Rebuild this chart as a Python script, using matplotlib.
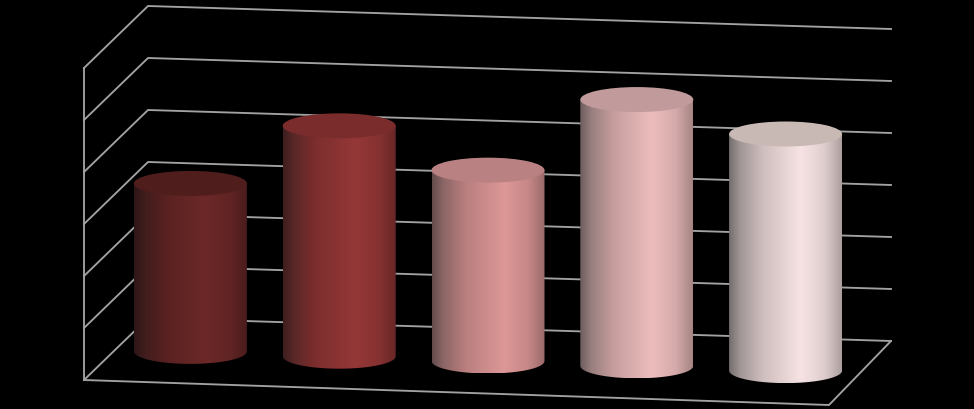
import matplotlib
matplotlib.use("Agg")
import matplotlib.pyplot as plt
import numpy as np
from matplotlib.patches import Ellipse, PathPatch
from matplotlib.path import Path

# values, in gridline units
values = [3.23, 4.43, 3.67, 5.12, 4.55]
grid_levels = [0, 1, 2, 3, 4, 5, 6]

side_colors = ["#6c2828", "#953737", "#dd9797", "#edbdbd", "#f7e3e3"]
top_colors = ["#4f1d1b", "#7a2c2c", "#b98181", "#c19b9b", "#c9b9b5"]
grid_color = "#a2a2a2"

# box corners on the canvas, in pixels
FRONT_LEFT = np.array([84.0, 380.0])
FRONT_RIGHT = np.array([829.0, 405.0])
BACK_LEFT = np.array([148.0, 318.0])
BACK_RIGHT = np.array([891.0, 341.0])
UNIT = 52.0
BAR_DEPTH = 0.5
RX = 56.5
RY = 12.5
LW = 1.35


def project(t, depth, value):
    # t along the front edge, depth into the box, value up the wall
    front = FRONT_LEFT + (FRONT_RIGHT - FRONT_LEFT) * t
    back = BACK_LEFT + (BACK_RIGHT - BACK_LEFT) * t
    p = front + (back - front) * depth
    return p[0], p[1] - UNIT * value


def draw_box(ax):
    for lev in grid_levels:
        x0, y0 = project(0, 0, lev)
        x1, y1 = project(0, 1, lev)
        x2, y2 = project(1, 1, lev)
        ax.plot([x0, x1, x2], [y0, y1, y2], color=grid_color, lw=LW, zorder=1)
    x0, y0 = project(0, 0, grid_levels[0])
    x1, y1 = project(0, 0, grid_levels[-1])
    ax.plot([x0, x1], [y0, y1], color=grid_color, lw=LW, zorder=1)
    x2, y2 = project(1, 0, 0)
    x3, y3 = project(1, 1, 0)
    ax.plot([x0, x2, x3], [y0, y2, y3], color=grid_color, lw=LW, zorder=1)


def draw_cylinder(ax, i, value, side, top):
    t = (i + 0.5) / len(values)
    cx, base_y = project(t, BAR_DEPTH, 0)
    _, top_y = project(t, BAR_DEPTH, value)

    # side: horizontal shading clipped to the cylinder outline
    u = np.linspace(0, 1, 226)
    shade = np.interp(u, [0, 0.1, 0.3, 0.64, 0.85, 1], [0.48, 0.66, 0.84, 1, 0.9, 0.7])
    rgb = np.array(matplotlib.colors.to_rgb(side))
    # the left edge goes a little grey on the pale bars
    grey = rgb.mean() * np.ones(3)
    mix = np.clip(1 - u / 0.25, 0, 1)[:, None] * 0.3
    img = ((1 - mix) * rgb + mix * grey) * shade[:, None]
    im = ax.imshow(img[None, :, :], extent=(cx - RX, cx + RX, base_y + RY, top_y),
                   aspect="auto", interpolation="bilinear", zorder=2)

    a = np.linspace(np.pi, 0, 60)
    lower = np.column_stack([cx + RX * np.cos(a), base_y + RY * np.sin(a)])
    outline = np.vstack([[[cx - RX, top_y]], lower, [[cx + RX, top_y]], [[cx - RX, top_y]]])
    clip = PathPatch(Path(outline), transform=ax.transData, fc="none", ec="none")
    ax.add_patch(clip)
    im.set_clip_path(clip)

    ax.add_patch(Ellipse((cx, top_y), 2 * RX, 2 * RY, fc=top, ec="none", zorder=3))


fig = plt.figure(figsize=(9.74, 4.09), dpi=100, facecolor="black")
ax = fig.add_axes([0, 0, 1, 1])
ax.set_facecolor("black")

draw_box(ax)
for i in range(len(values)):
    draw_cylinder(ax, i, values[i], side_colors[i], top_colors[i])

ax.set_xlim(0, 974)
ax.set_ylim(409, 0)
ax.axis("off")
fig.savefig("out.png", dpi=100, facecolor="black")
